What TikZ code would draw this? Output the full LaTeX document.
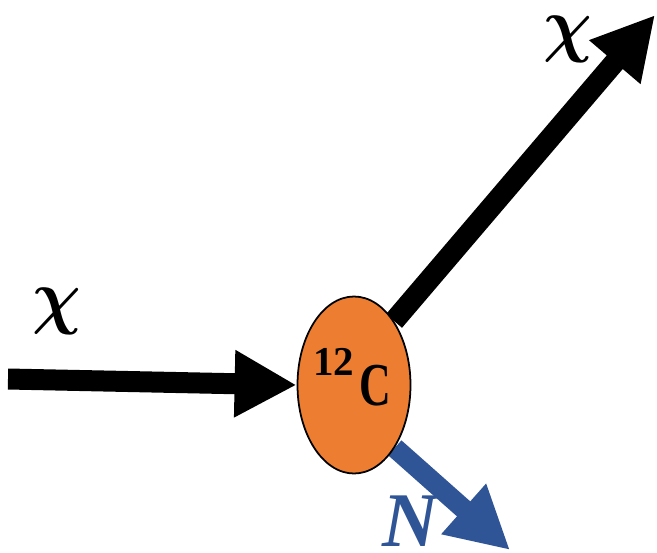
\documentclass[tikz,border=0pt]{standalone}
\usepackage{bm}
\usepackage{fontspec}
\setmainfont{Liberation Serif}
\usetikzlibrary{arrows.meta,shapes.geometric,backgrounds}
\definecolor{nucleus}{HTML}{ED7D31}
\definecolor{recoil}{HTML}{2F5597}

\begin{document}
\begin{tikzpicture}[x=0.03cm,y=-0.03cm,
    beam/.style={line width=0.63cm,-{Triangle[length=1.86cm,width=1.89cm]}},
    big/.style={inner sep=0pt,font=\fontsize{66}{70}\selectfont\bfseries\itshape}]
    \useasboundingbox (0,0) rectangle (657,552);
    % target nucleus
    \node[ellipse,draw,line width=1.5pt,fill=nucleus,minimum width=3.39cm,
        minimum height=5.31cm,inner sep=0pt] (c12) at (354,385) {};
    \node[font=\fontsize{52}{56}\selectfont\bfseries] (c12txt) at (352,377)
        {\raisebox{26pt}{\fontsize{35}{38}\selectfont 12}\hspace{4pt}\scalebox{0.72}[1]{C}};
    % incoming and scattered particles
    \coordinate (chiStart) at (8,379);
    \coordinate (chiEnd) at (655,15);
    \coordinate (nEnd) at (510,550);
    \begin{scope}[on background layer]
        \draw[beam] (chiStart) -- (c12.west);
        \draw[beam] (c12.58) -- (chiEnd);
        \draw[beam,recoil,line width=0.6cm] (c12.-57) -- (nEnd);
    \end{scope}
    \node[inner sep=0pt] (chiIn) at (57,311) {\scalebox{5.8}[6.2]{$\bm{\chi}$}};
    \node[inner sep=0pt] (chiOut) at (568,39) {\scalebox{5.8}[6.2]{$\bm{\chi}$}};
    \node[big,recoil] (nLabel) at (410,521) {N};
\end{tikzpicture}
\end{document}
